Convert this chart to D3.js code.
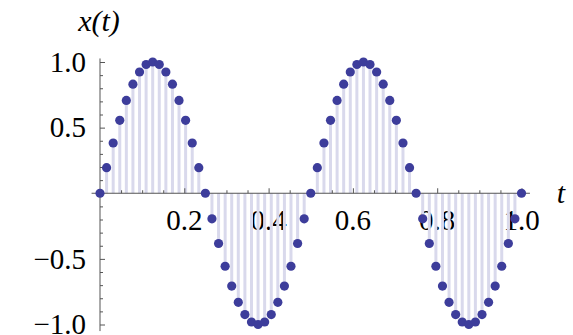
<!DOCTYPE html>
<html>
<head>
<meta charset="utf-8">
<script src="https://cdn.jsdelivr.net/npm/d3@7"></script>
<style>
  html, body { margin: 0; padding: 0; background: #fff; }
  svg { display: block; }
</style>
</head>
<body>
<script>
// Sample times t = k/64
const tValues = [
  0, 0.0156, 0.0313, 0.0469, 0.0625, 0.0781, 0.0938, 0.1094, 0.125, 0.1406, 0.1563,
  0.1719, 0.1875, 0.2031, 0.2188, 0.2344, 0.25, 0.2656, 0.2813, 0.2969, 0.3125,
  0.3281, 0.3438, 0.3594, 0.375, 0.3906, 0.4063, 0.4219, 0.4375, 0.4531, 0.4688,
  0.4844, 0.5, 0.5156, 0.5313, 0.5469, 0.5625, 0.5781, 0.5938, 0.6094, 0.625,
  0.6406, 0.6563, 0.6719, 0.6875, 0.7031, 0.7188, 0.7344, 0.75, 0.7656, 0.7813,
  0.7969, 0.8125, 0.8281, 0.8438, 0.8594, 0.875, 0.8906, 0.9063, 0.9219, 0.9375,
  0.9531, 0.9688, 0.9844, 1
];
// Signal values x(t)
const xValues = [
  0, 0.195, 0.383, 0.556, 0.707, 0.831, 0.924, 0.981, 1, 0.981, 0.924, 0.831, 0.707, 0.556, 0.383, 0.195,
  0, -0.195, -0.383, -0.556, -0.707, -0.831, -0.924, -0.981, -1, -0.981, -0.924, -0.831, -0.707, -0.556, -0.383, -0.195,
  0, 0.195, 0.383, 0.556, 0.707, 0.831, 0.924, 0.981, 1, 0.981, 0.924, 0.831, 0.707, 0.556, 0.383, 0.195,
  0, -0.195, -0.383, -0.556, -0.707, -0.831, -0.924, -0.981, -1, -0.981, -0.924, -0.831, -0.707, -0.556, -0.383, -0.195,
  0
];
const xMajorTicks = [0.2, 0.4, 0.6, 0.8, 1.0];
const xTickLabels = ["0.2", "0.4", "0.6", "0.8", "1.0"];
const yMajorTicks = [-1.0, -0.5, 0.5, 1.0];
const yTickLabels = ["\u22121.0", "\u22120.5", "0.5", "1.0"];
const xMinorTicks = [0.05, 0.1, 0.15, 0.25, 0.3, 0.35, 0.45, 0.5, 0.55, 0.65, 0.7, 0.75, 0.85, 0.9, 0.95];
const yMinorTicks = [-0.9, -0.8, -0.7, -0.6, -0.4, -0.3, -0.2, -0.1, 0.1, 0.2, 0.3, 0.4, 0.6, 0.7, 0.8, 0.9];

const W = 573, H = 335;

// Pick the first installed serif face by comparing rendered widths
function pickFont(candidates) {
  const ctx = document.createElement("canvas").getContext("2d");
  const sample = "0.2 1.0 x(t) mmWwii";
  const widthOf = f => { ctx.font = "30px " + f; return ctx.measureText(sample).width; };
  const wMono = widthOf("monospace");
  const wSans = widthOf("sans-serif");
  for (const c of candidates) {
    const a = widthOf(`"${c}", monospace`);
    const b = widthOf(`"${c}", sans-serif`);
    if (a !== wMono && b !== wSans) return `"${c}"`;
    if (a === b && a !== wMono) return `"${c}"`;
  }
  return "serif";
}
const FONT = pickFont(["Liberation Serif", "DejaVu Serif", "Noto Serif", "Times New Roman", "FreeSerif"]) + ", serif";

const data = tValues.map((t, i) => ({ t, v: xValues[i] }));

const x = d3.scaleLinear().domain([0, 1]).range([100, 521.5]);
const y = d3.scaleLinear().domain([-1, 1]).range([324.5, 62]);

const svg = d3.select("body").append("svg").attr("width", W).attr("height", H);

const axisColor = "#555";
const labelSize = 29;

// Tick labels (drawn beneath the marks)
svg.append("g").selectAll("text").data(xMajorTicks).join("text")
  .attr("x", d => x(d))
  .attr("y", 230)
  .attr("text-anchor", "middle")
  .style("font-family", FONT)
  .style("font-size", labelSize + "px")
  .text((d, i) => xTickLabels[i]);

svg.append("g").selectAll("text").data(yMajorTicks).join("text")
  .attr("x", 86)
  .attr("y", d => y(d))
  .attr("dy", "0.34em")
  .attr("text-anchor", "end")
  .style("font-family", FONT)
  .style("font-size", labelSize + "px")
  .text((d, i) => yTickLabels[i]);

// Axis titles
svg.append("text")
  .attr("x", 99).attr("y", 31)
  .attr("text-anchor", "middle")
  .style("font-family", FONT)
  .style("font-size", "30px").style("font-style", "italic")
  .text("x(t)");
svg.append("text")
  .attr("x", 561).attr("y", 193)
  .attr("dy", "0.34em")
  .attr("text-anchor", "middle")
  .style("font-family", FONT)
  .style("font-size", "30px").style("font-style", "italic")
  .text("t");

// Stems from the axis to each sample
svg.append("g").selectAll("line").data(data).join("line")
  .attr("x1", d => x(d.t)).attr("x2", d => x(d.t))
  .attr("y1", y(0)).attr("y2", d => y(d.v))
  .attr("stroke", "#d9d9ec")
  .attr("stroke-width", 3);

// Axes with inward ticks
const gx = svg.append("g").attr("transform", `translate(0,${y(0)})`);
gx.call(d3.axisBottom(x).tickValues(xMinorTicks).tickSize(-3).tickFormat(""));
gx.call(g => g.select(".domain").remove());
const gx2 = svg.append("g").attr("transform", `translate(0,${y(0)})`);
gx2.call(d3.axisBottom(x).tickValues(xMajorTicks).tickSize(-5).tickFormat(""));
gx2.call(g => g.select(".domain").remove());

const gy = svg.append("g").attr("transform", `translate(${x(0)},0)`);
gy.call(d3.axisLeft(y).tickValues(yMinorTicks).tickSize(-3).tickFormat(""));
gy.call(g => g.select(".domain").remove());
const gy2 = svg.append("g").attr("transform", `translate(${x(0)},0)`);
gy2.call(d3.axisLeft(y).tickValues(yMajorTicks).tickSize(-5).tickFormat(""));
gy2.call(g => g.select(".domain").remove());

svg.selectAll(".tick line").attr("stroke", axisColor);

svg.append("line")
  .attr("x1", x(-0.02)).attr("x2", x(1.02))
  .attr("y1", y(0)).attr("y2", y(0))
  .attr("stroke", axisColor).attr("stroke-width", 1);
svg.append("line")
  .attr("x1", x(0)).attr("x2", x(0))
  .attr("y1", y(1.027)).attr("y2", y(-1.05))
  .attr("stroke", axisColor).attr("stroke-width", 1);

// Sample points
svg.append("g").selectAll("circle").data(data).join("circle")
  .attr("cx", d => x(d.t))
  .attr("cy", d => y(d.v))
  .attr("r", 4.6)
  .attr("fill", "#3d3d9b");
</script>
</body>
</html>
